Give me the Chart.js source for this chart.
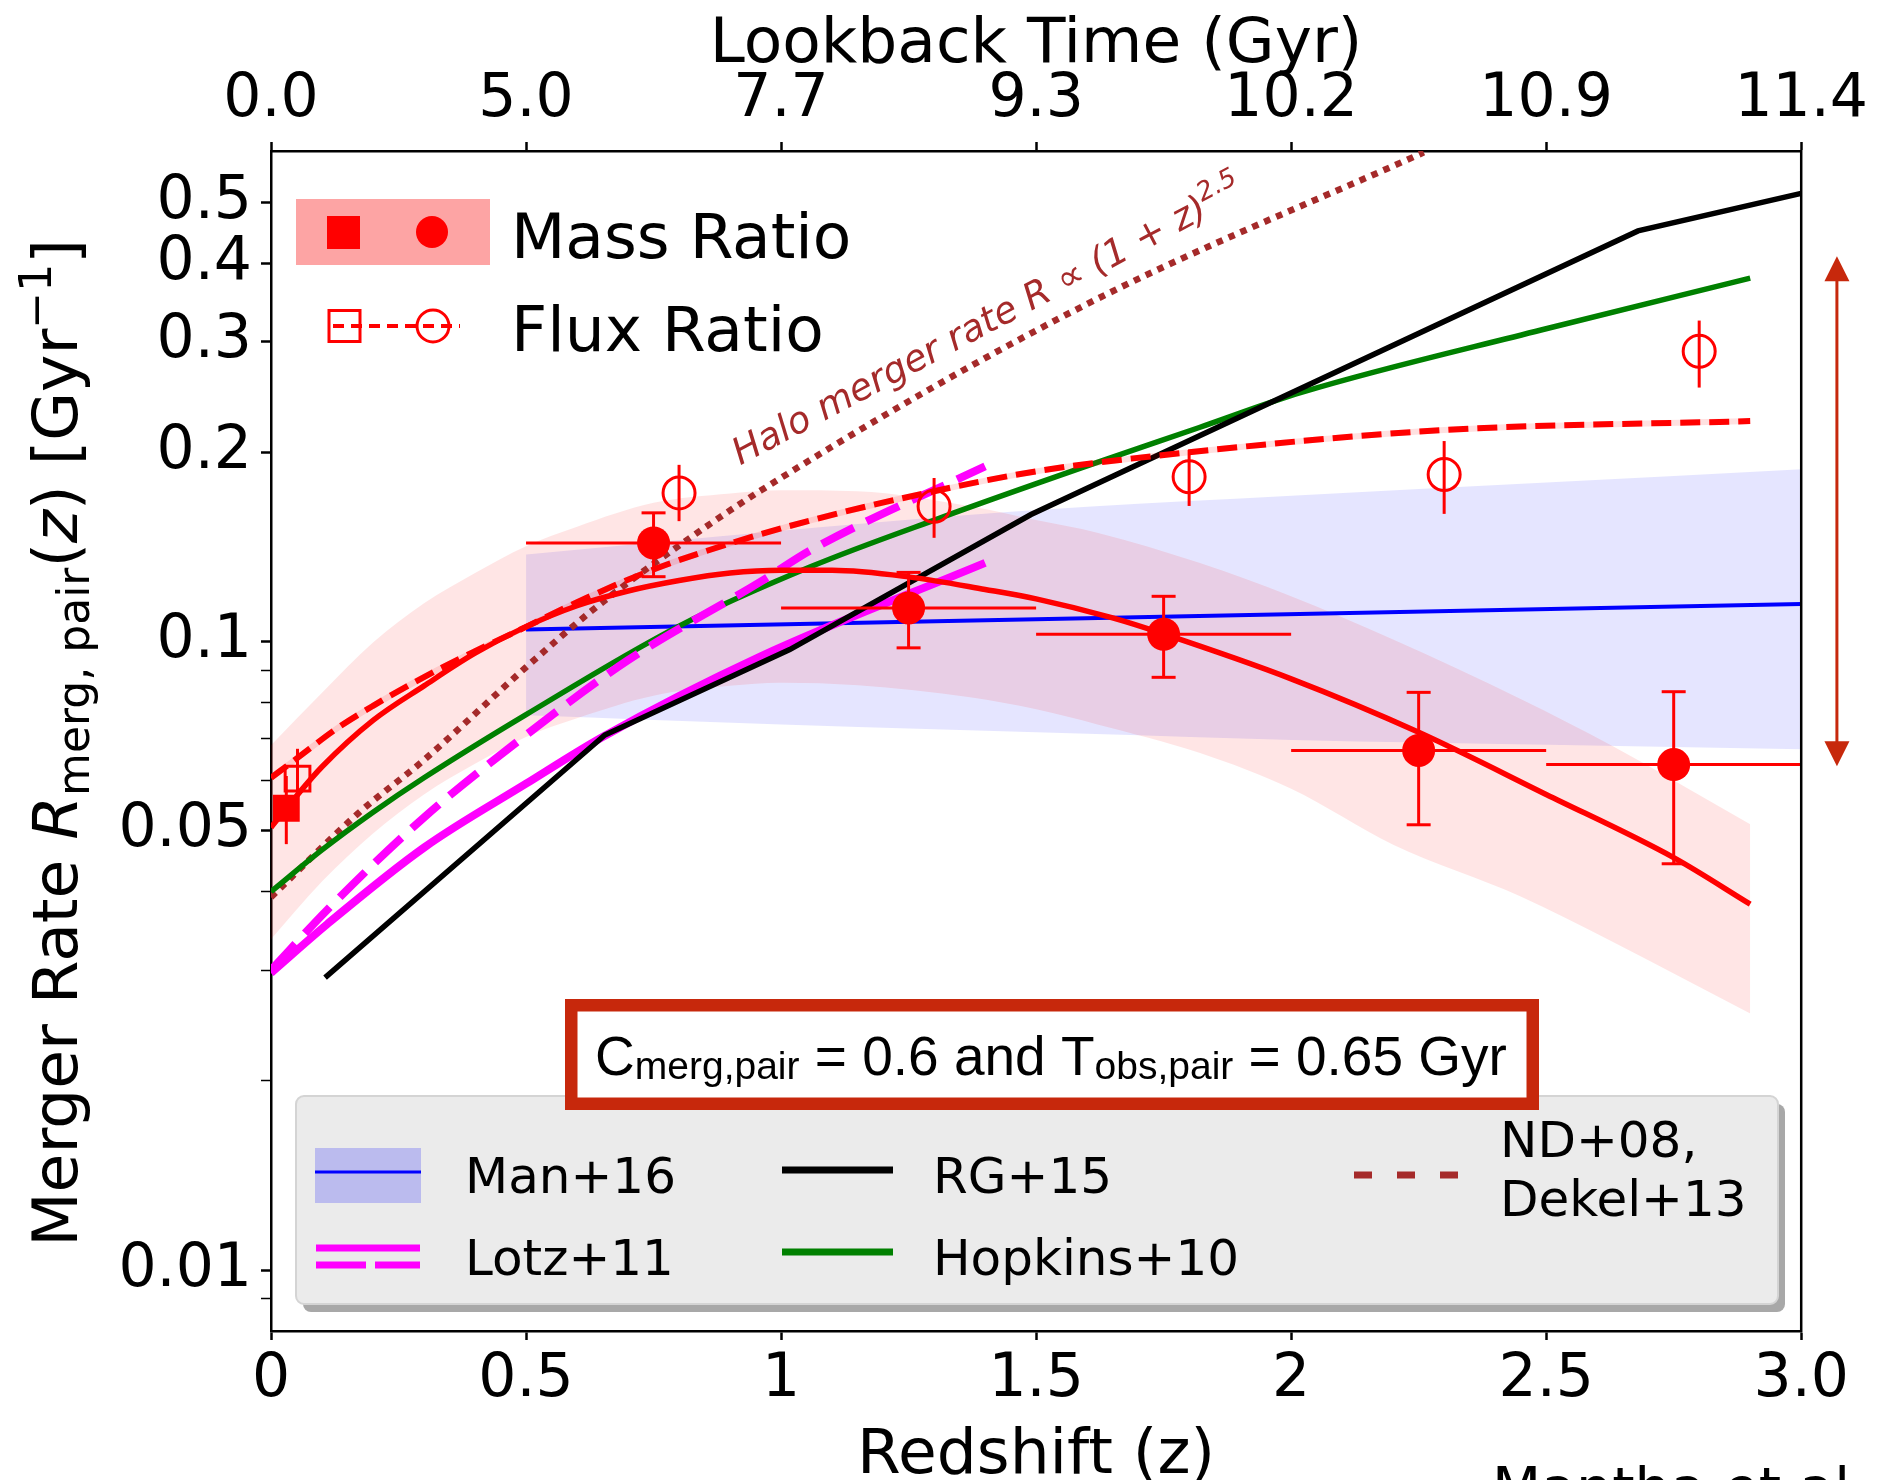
<!DOCTYPE html>
<html>
<head>
<meta charset="utf-8">
<title>Merger Rate vs Redshift</title>
<script src="https://cdn.jsdelivr.net/npm/chart.js@4.4.1/dist/chart.umd.min.js"></script>
<style>
    html, body { margin: 0; padding: 0; background: #ffffff; }
    #mergerChart { display: block; }
</style>
</head>
<body>
<canvas id="mergerChart" width="1880" height="1480"></canvas>
<script>

// ======================================================
// Axis Ticks
// ======================================================

const redshiftTicks = [0, 0.5, 1, 1.5, 2, 2.5, 3];
const redshiftTickLabels = ["0", "0.5", "1", "1.5", "2", "2.5", "3.0"];
const lookbackTickLabels = ["0.0", "5.0", "7.7", "9.3", "10.2", "10.9", "11.4"];

const rateTicks = [0.009, 0.01, 0.02, 0.03, 0.04, 0.05, 0.06, 0.07, 0.08, 0.09, 0.1, 0.2, 0.3, 0.4, 0.5];
const rateTickLabels = ["", "0.01", "", "", "", "0.05", "", "", "", "", "0.1", "0.2", "0.3", "0.4", "0.5"];

// ======================================================
// Mass Ratio Pairs (filled symbols)
// ======================================================

const massZ = [0.75, 1.25, 1.75, 2.25, 2.75];
const massZLow = [0.5, 1.0, 1.5, 2.0, 2.5];
const massZHigh = [1.0, 1.5, 2.0, 2.5, 3.0];
const massRate = [0.1435, 0.1131, 0.1027, 0.0671, 0.0637];
const massRateLow = [0.1268, 0.0977, 0.0877, 0.0511, 0.0443];
const massRateHigh = [0.1602, 0.1288, 0.1180, 0.0830, 0.0832];

const massLocalZ = [0.03];
const massLocalRate = [0.0543];
const massLocalLow = [0.0476];
const massLocalHigh = [0.0611];

// ======================================================
// Flux Ratio Pairs (open symbols)
// ======================================================

const fluxZ = [0.8, 1.3, 1.8, 2.3, 2.8];
const fluxRate = [0.1723, 0.1641, 0.1828, 0.1843, 0.2895];
const fluxRateLow = [0.1554, 0.1462, 0.1643, 0.1596, 0.2535];
const fluxRateHigh = [0.1910, 0.1820, 0.2017, 0.2084, 0.3240];

const fluxLocalZ = [0.052];
const fluxLocalRate = [0.0605];
const fluxLocalLow = [0.0540];
const fluxLocalHigh = [0.0675];

// ======================================================
// Fits
// ======================================================

const massFitZ = [0, 0.05, 0.1, 0.2, 0.3, 0.4, 0.5, 0.6, 0.7, 0.8, 0.9, 1.0, 1.1, 1.25, 1.4, 1.5, 1.65, 1.75, 2.0, 2.25, 2.5, 2.75, 2.9];
const massFitRate = [0.0506, 0.0568, 0.0632, 0.0749, 0.0850, 0.0958, 0.1056, 0.1140, 0.1203, 0.1250, 0.1285, 0.1298, 0.1298, 0.1267, 0.1210, 0.1169, 0.1090, 0.1028, 0.0872, 0.0717, 0.0571, 0.0453, 0.0382];

const massBandZ = [0, 0.1, 0.2, 0.3, 0.4, 0.5, 0.6, 0.75, 0.9, 1.0, 1.15, 1.37, 1.5, 1.62, 1.82, 2.0, 2.2, 2.45, 2.63, 2.9];
const massBandHigh = [0.0684, 0.0829, 0.0996, 0.1150, 0.1285, 0.1418, 0.1523, 0.1662, 0.1720, 0.1740, 0.1734, 0.1641, 0.1560, 0.1490, 0.1334, 0.1180, 0.1007, 0.0810, 0.0682, 0.0512];
const massBandLow = [0.0336, 0.0415, 0.0495, 0.0571, 0.0639, 0.0705, 0.0755, 0.0820, 0.0850, 0.0860, 0.0852, 0.0815, 0.0780, 0.0738, 0.0665, 0.0583, 0.0475, 0.0393, 0.0333, 0.0256];

const fluxFitZ = [0, 0.05, 0.13, 0.2, 0.3, 0.4, 0.5, 0.6, 0.75, 0.9, 1.06, 1.28, 1.5, 1.8, 2.3, 2.9];
const fluxFitRate = [0.0607, 0.0651, 0.0728, 0.0790, 0.0878, 0.0965, 0.1055, 0.1155, 0.1302, 0.1432, 0.1560, 0.1720, 0.1865, 0.2000, 0.2170, 0.2242];

// ======================================================
// Literature Models
// ======================================================

const manZ = [0.5, 3.0];
const manRate = [0.1045, 0.1147];
const manBandZ = [0.5, 0.75, 1.0, 1.3, 1.6, 2.0, 2.5, 3.0];
const manBandHigh = [0.1375, 0.1437, 0.1500, 0.1575, 0.1638, 0.1705, 0.1790, 0.1880];
const manBandLow = [0.0763, 0.0750, 0.0738, 0.0725, 0.0713, 0.0697, 0.0685, 0.0674];

const rgZ = [0.106, 0.6545, 1.017, 1.49, 2.68, 3.0];
const rgRate = [0.0292, 0.0710, 0.0971, 0.1592, 0.4500, 0.5164];

const hopkinsZ = [0, 0.1, 0.2, 0.3, 0.5, 0.8, 1.06, 1.31, 1.59, 1.82, 2.02, 2.49, 2.9];
const hopkinsRate = [0.0400, 0.0466, 0.0535, 0.0607, 0.0765, 0.1058, 0.1317, 0.1570, 0.1890, 0.2190, 0.2490, 0.3130, 0.3785];

const lotzZ = [0, 0.11, 0.3, 0.5, 0.65, 0.96, 1.4];
const lotzRate = [0.0297, 0.0355, 0.0470, 0.0594, 0.0705, 0.0947, 0.1334];

const lotzAltZ = [0, 0.11, 0.3, 0.5, 0.7, 0.96, 1.06, 1.4];
const lotzAltRate = [0.0300, 0.0374, 0.0525, 0.0710, 0.0934, 0.1245, 0.1400, 0.1900];

const haloZ = [0, 0.17, 0.3, 0.5, 0.63, 0.76, 0.96, 1.59, 2.26];
const haloRate = [0.0392, 0.0532, 0.0648, 0.0910, 0.1121, 0.1347, 0.1738, 0.3410, 0.6000];

// Range marked by the arrow on the right
const arrowRange = [0.0633, 0.41];

// ======================================================
// Styles
// ======================================================

const RED = "#ff0000";
const BROWN = "#a52a2a";
const BOX_RED = "#c7280c";
const FONT = "DejaVu Sans";

// ======================================================
// Helpers
// ======================================================

function points(xs, ys) {
    return xs.map((x, i) => ({ x: x, y: ys[i] }));
}

function curve(label, xs, ys, color, width, extra) {
    return Object.assign({
        label: label,
        data: points(xs, ys),
        borderColor: color,
        backgroundColor: color,
        borderWidth: width,
        pointRadius: 0,
        pointHoverRadius: 0,
        fill: false,
        tension: 0,
        cubicInterpolationMode: "monotone"
    }, extra || {});
}

function markers(label, xs, ys, style, radius, filled) {
    return {
        label: label,
        data: points(xs, ys),
        showLine: false,
        fill: false,
        pointStyle: style,
        pointRadius: radius,
        pointHoverRadius: radius,
        pointBackgroundColor: filled ? RED : "rgba(0,0,0,0)",
        pointBorderColor: RED,
        pointBorderWidth: filled ? 0 : 3,
        order: 1
    };
}

function strokeLine(ctx, x1, y1, x2, y2) {
    ctx.beginPath();
    ctx.moveTo(x1, y1);
    ctx.lineTo(x2, y2);
    ctx.stroke();
}

function drawPieces(ctx, pieces, x, y, align) {

    let width = 0;

    pieces.forEach(p => {
        ctx.font = p.font;
        width += ctx.measureText(p.text).width;
    });

    let cursor = align === "center" ? x - width / 2 : x;

    pieces.forEach(p => {
        ctx.font = p.font;
        ctx.fillText(p.text, cursor, y + (p.dy || 0));
        cursor += ctx.measureText(p.text).width;
    });
}

// ======================================================
// Error Bars
// ======================================================

const errorBarPlugin = {

    id: "errorBars",

    afterDatasetsDraw(chart) {

        const ctx = chart.ctx;
        const x = chart.scales.x;
        const y = chart.scales.y;

        ctx.save();
        ctx.strokeStyle = RED;
        ctx.lineWidth = 3;

        // Mass ratio: redshift bins and capped rate errors

        massZ.forEach((z, i) => {

            const px = x.getPixelForValue(z);
            const py = y.getPixelForValue(massRate[i]);
            const top = y.getPixelForValue(massRateHigh[i]);
            const bottom = y.getPixelForValue(massRateLow[i]);

            strokeLine(ctx, x.getPixelForValue(massZLow[i]), py, x.getPixelForValue(massZHigh[i]), py);
            strokeLine(ctx, px, top, px, bottom);
            strokeLine(ctx, px - 12, top, px + 12, top);
            strokeLine(ctx, px - 12, bottom, px + 12, bottom);
        });

        // Flux ratio and local points: plain vertical bars

        const plain = [
            [fluxZ, fluxRateLow, fluxRateHigh],
            [massLocalZ, massLocalLow, massLocalHigh],
            [fluxLocalZ, fluxLocalLow, fluxLocalHigh]
        ];

        plain.forEach(([zs, lows, highs]) => {
            zs.forEach((z, i) => {
                const px = x.getPixelForValue(z);
                strokeLine(ctx, px, y.getPixelForValue(highs[i]), px, y.getPixelForValue(lows[i]));
            });
        });

        // Halo merger rate label along the dotted line

        const lx = x.getPixelForValue(0.92);
        const ly = y.getPixelForValue(0.1905);

        ctx.translate(lx, ly);
        ctx.rotate(-28 * Math.PI / 180);
        ctx.fillStyle = BROWN;
        ctx.textBaseline = "alphabetic";
        ctx.textAlign = "left";

        drawPieces(ctx, [
            { text: "Halo merger rate R \u221D (1 + z)", font: "italic 37px '" + FONT + "'" },
            { text: "2.5", font: "italic 26px '" + FONT + "'", dy: -16 }
        ], 0, 0, "left");

        ctx.restore();
    }
};

// ======================================================
// Titles, Legends, Annotations
// ======================================================

const decorPlugin = {

    id: "decor",

    afterDraw(chart) {

        const ctx = chart.ctx;
        const area = chart.chartArea;
        const x = chart.scales.x;
        const y = chart.scales.y;

        ctx.save();
        ctx.textAlign = "left";
        ctx.textBaseline = "alphabetic";
        ctx.fillStyle = "#000000";

        // Right spine

        ctx.strokeStyle = "#000000";
        ctx.lineWidth = 2.5;
        strokeLine(ctx, area.right, area.top - 1, area.right, area.bottom + 1);

        // Axis titles

        const big = "63px '" + FONT + "'";
        const bigItalic = "italic 63px '" + FONT + "'";
        const small = "44px '" + FONT + "'";

        drawPieces(ctx, [{ text: "Lookback Time (Gyr)", font: big }], (area.left + area.right) / 2, 62, "center");
        drawPieces(ctx, [{ text: "Redshift (z)", font: big }], (area.left + area.right) / 2, 1473, "center");

        ctx.save();
        ctx.translate(77, 743);
        ctx.rotate(-Math.PI / 2);
        drawPieces(ctx, [
            { text: "Merger Rate ", font: big },
            { text: "R", font: bigItalic },
            { text: "merg, pair", font: small, dy: 12 },
            { text: "(", font: big },
            { text: "z", font: bigItalic },
            { text: ") [Gyr", font: big },
            { text: "\u22121", font: small, dy: -26 },
            { text: "]", font: big }
        ], 0, 0, "center");
        ctx.restore();

        // Credit, cut by the bottom edge

        ctx.font = "57px '" + FONT + "'";
        ctx.fillText("Mantha et al.", 1492, 1508);

        // Data legend (top left)

        ctx.fillStyle = "#fda4a4";
        ctx.fillRect(296, 199, 194, 66);

        ctx.fillStyle = RED;
        ctx.fillRect(327, 216, 33, 33);
        ctx.beginPath();
        ctx.arc(432, 232, 16, 0, Math.PI * 2);
        ctx.fill();

        ctx.strokeStyle = RED;
        ctx.lineWidth = 4;
        ctx.setLineDash([11, 7]);
        strokeLine(ctx, 333, 326, 460, 326);
        ctx.setLineDash([]);
        ctx.lineWidth = 3;
        ctx.strokeRect(329, 310.5, 31, 31);
        ctx.beginPath();
        ctx.arc(433, 326, 16, 0, Math.PI * 2);
        ctx.stroke();

        ctx.fillStyle = "#000000";
        ctx.font = big;
        ctx.fillText("Mass Ratio", 511, 258);
        ctx.fillText("Flux Ratio", 511, 351);

        // Model legend (bottom)

        ctx.fillStyle = "#a8a8a8";
        ctx.beginPath();
        ctx.roundRect(303, 1104, 1482, 208, 8);
        ctx.fill();

        ctx.fillStyle = "#ebebeb";
        ctx.strokeStyle = "#d4d4d4";
        ctx.lineWidth = 2;
        ctx.beginPath();
        ctx.roundRect(296, 1096, 1482, 208, 8);
        ctx.fill();
        ctx.stroke();

        ctx.fillStyle = "#bbbbee";
        ctx.fillRect(315, 1148, 106, 55);
        ctx.strokeStyle = "#0000ff";
        ctx.lineWidth = 3;
        strokeLine(ctx, 315, 1172, 421, 1172);

        ctx.strokeStyle = "#ff00ff";
        ctx.lineWidth = 7;
        strokeLine(ctx, 316, 1248, 420, 1248);
        ctx.setLineDash([50, 9]);
        strokeLine(ctx, 316, 1265, 420, 1265);
        ctx.setLineDash([]);

        ctx.strokeStyle = "#000000";
        strokeLine(ctx, 782, 1170, 893, 1170);
        ctx.strokeStyle = "#008000";
        strokeLine(ctx, 782, 1252, 893, 1252);

        ctx.strokeStyle = BROWN;
        ctx.setLineDash([18, 25]);
        strokeLine(ctx, 1354, 1175, 1460, 1175);
        ctx.setLineDash([]);

        ctx.fillStyle = "#000000";
        ctx.font = "50px '" + FONT + "'";
        ctx.fillText("Man+16", 465, 1193);
        ctx.fillText("Lotz+11", 465, 1275);
        ctx.fillText("RG+15", 933, 1193);
        ctx.fillText("Hopkins+10", 933, 1275);
        ctx.fillText("ND+08,", 1500, 1157);
        ctx.fillText("Dekel+13", 1500, 1216);

        // Parameter box

        ctx.fillStyle = "#ffffff";
        ctx.fillRect(571, 1005, 962, 99);
        ctx.strokeStyle = BOX_RED;
        ctx.lineWidth = 12.5;
        ctx.strokeRect(571.25, 1005.25, 961.5, 98.5);

        ctx.fillStyle = "#000000";
        const sans = "55px 'Liberation Sans'";
        const sub = "39px 'Liberation Sans'";
        drawPieces(ctx, [
            { text: "C", font: sans },
            { text: "merg,pair", font: sub, dy: 4 },
            { text: " = 0.6 and T", font: sans },
            { text: "obs,pair", font: sub, dy: 4 },
            { text: " = 0.65 Gyr", font: sans }
        ], 1051, 1075, "center");

        // Double arrow outside the axes

        const ax = x.getPixelForValue(3.07);
        const aTop = y.getPixelForValue(arrowRange[1]);
        const aBottom = y.getPixelForValue(arrowRange[0]);

        ctx.strokeStyle = BOX_RED;
        ctx.fillStyle = BOX_RED;
        ctx.lineWidth = 3;
        strokeLine(ctx, ax, aTop + 20, ax, aBottom - 20);

        ctx.beginPath();
        ctx.moveTo(ax, aTop);
        ctx.lineTo(ax - 12.5, aTop + 25);
        ctx.lineTo(ax + 12.5, aTop + 25);
        ctx.closePath();
        ctx.fill();

        ctx.beginPath();
        ctx.moveTo(ax, aBottom);
        ctx.lineTo(ax - 12.5, aBottom - 25);
        ctx.lineTo(ax + 12.5, aBottom - 25);
        ctx.closePath();
        ctx.fill();

        ctx.restore();
    }
};

// ======================================================
// Datasets
// ======================================================

const datasets = [

    curve("Man+16 upper", manBandZ, manBandHigh, "rgba(0,0,0,0)", 0,
        { fill: "+1", backgroundColor: "rgba(0,0,255,0.1)", order: 30 }),
    curve("Man+16 lower", manBandZ, manBandLow, "rgba(0,0,0,0)", 0,
        { order: 31 }),

    curve("Mass band upper", massBandZ, massBandHigh, "rgba(0,0,0,0)", 0,
        { fill: "+1", backgroundColor: "rgba(255,0,0,0.1)", order: 28 }),
    curve("Mass band lower", massBandZ, massBandLow, "rgba(0,0,0,0)", 0,
        { order: 29 }),

    curve("Man+16", manZ, manRate, "#0000ff", 4, { order: 20 }),
    curve("Halo", haloZ, haloRate, BROWN, 6.5, { borderDash: [6.5, 6.5], order: 19 }),
    curve("Hopkins+10", hopkinsZ, hopkinsRate, "#008000", 5.5, { order: 18 }),
    curve("Lotz+11", lotzZ, lotzRate, "#ff00ff", 8, { order: 17 }),
    curve("Lotz+11 alt", lotzAltZ, lotzAltRate, "#ff00ff", 8, { borderDash: [36, 14], order: 16 }),
    curve("RG+15", rgZ, rgRate, "#000000", 5.5, { cubicInterpolationMode: "default", order: 15 }),
    curve("Flux fit glow", fluxFitZ, fluxFitRate, "rgba(255,0,0,0.12)", 6, { order: 14 }),
    curve("Flux fit", fluxFitZ, fluxFitRate, RED, 6, { borderDash: [20, 9], order: 13 }),
    curve("Mass fit", massFitZ, massFitRate, RED, 5.5, { order: 12 }),

    markers("Mass ratio", massZ, massRate, "circle", 16.5, true),
    markers("Mass ratio local", massLocalZ, massLocalRate, "rect", 19, true),
    markers("Flux ratio", fluxZ, fluxRate, "circle", 16, false),
    markers("Flux ratio local", fluxLocalZ, fluxLocalRate, "rect", 17.5, false)
];

// ======================================================
// Scales
// ======================================================

const tickFont = { family: FONT, size: 60, lineHeight: 1 };

const scales = {

    x: {
        type: "linear",
        position: "bottom",
        min: 0,
        max: 3,
        afterBuildTicks: scale => { scale.ticks = redshiftTicks.map(v => ({ value: v })); },
        afterFit: scale => { scale.height = 149; },
        ticks: {
            autoSkip: false,
            maxRotation: 0,
            padding: 10,
            color: "#000000",
            font: tickFont,
            callback: value => redshiftTickLabels[redshiftTicks.indexOf(value)]
        },
        grid: { drawOnChartArea: false, tickLength: 9, tickWidth: 2.5, tickColor: "#000000" },
        border: { display: true, color: "#000000", width: 2.5 }
    },

    x2: {
        type: "linear",
        position: "top",
        min: 0,
        max: 3,
        afterBuildTicks: scale => { scale.ticks = redshiftTicks.map(v => ({ value: v })); },
        afterFit: scale => { scale.height = 151; },
        ticks: {
            autoSkip: false,
            maxRotation: 0,
            padding: 12,
            color: "#000000",
            font: tickFont,
            callback: value => lookbackTickLabels[redshiftTicks.indexOf(value)]
        },
        grid: { drawOnChartArea: false, tickLength: 9, tickWidth: 2.5, tickColor: "#000000" },
        border: { display: true, color: "#000000", width: 2.5 }
    },

    y: {
        type: "logarithmic",
        position: "left",
        min: 0.008,
        max: 0.603,
        afterBuildTicks: scale => { scale.ticks = rateTicks.map(v => ({ value: v })); },
        afterFit: scale => { scale.width = 271; },
        ticks: {
            autoSkip: false,
            padding: 9,
            color: "#000000",
            font: tickFont,
            callback: (value, index) => rateTickLabels[index]
        },
        grid: {
            drawOnChartArea: false,
            tickLength: 10,
            tickColor: "#000000",
            tickWidth: ctx => (rateTickLabels[ctx.index] ? 2.5 : 1.5)
        },
        border: { display: true, color: "#000000", width: 2.5 }
    }
};

// ======================================================
// Chart
// ======================================================

new Chart(document.getElementById("mergerChart"), {

    type: "line",

    data: { datasets: datasets },

    options: {
        responsive: false,
        devicePixelRatio: 1,
        animation: false,
        events: [],
        layout: { padding: { left: 0, right: 78, top: 0, bottom: 0 } },
        plugins: {
            legend: { display: false },
            tooltip: { enabled: false }
        },
        scales: scales
    },

    plugins: [errorBarPlugin, decorPlugin]
});

</script>
</body>
</html>
